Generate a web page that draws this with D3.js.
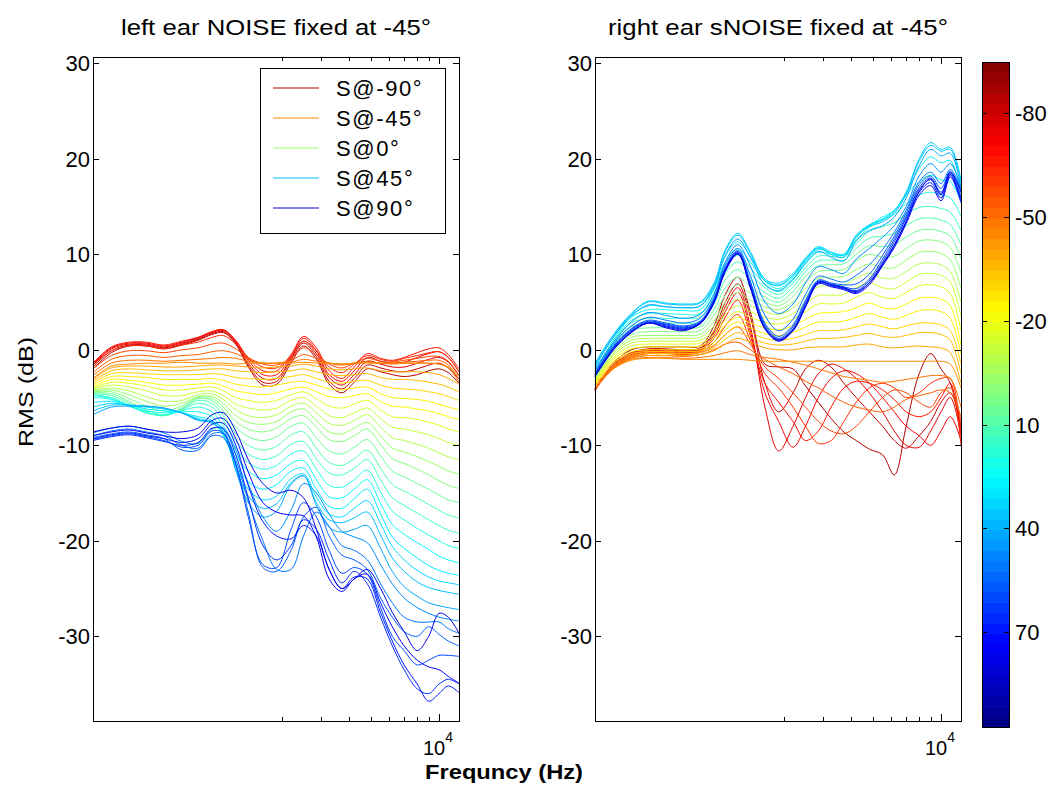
<!DOCTYPE html>
<html>
<head>
<meta charset="utf-8">
<script src="https://cdn.jsdelivr.net/npm/d3@7"></script>
<style>
  body { margin: 0; background: #fff; }
  text { font-family: "Liberation Sans", Arial, sans-serif; fill: #000; }
</style>
</head>
<body>
<svg id="chart" width="1064" height="788"></svg>
<script>
// frequency grid (Hz) shared by every curve
const freqs = [290, 350, 420, 500, 600, 720, 850, 980, 1100, 1250, 1420, 1650, 1900, 2200,
               2500, 2850, 3250, 3700, 4200, 4800, 5500, 6200, 7000, 8000, 9000, 10000, 11000, 12270];

// signal angle of each curve (row order of the tables below)
const angles = [-90, -85, -80, -75, -70, -65, -60, -55, -50, -45, -40, -35, -30, -25, -20, -15, -10, -5, 0,
                5, 10, 15, 20, 25, 30, 35, 40, 45, 50, 55, 60, 65, 70, 75, 80, 85, 90];

// RMS (dB), left ear, one row per angle
const leftRms = [
  [-2.0,-0.3,0.4,0.4,0.1,0.5,1.0,1.6,1.8,0.6,-1.8,-3.7,-3.6,-1.4,0.4,-1.0,-3.6,-4.5,-3.4,-2.0,-2.3,-2.6,-2.8,-2.6,-2.2,-2.0,-2.4,-3.5],
  [-1.8,-0.1,0.5,0.5,0.2,0.6,1.1,1.7,1.9,0.7,-1.6,-3.4,-3.3,-1.1,0.7,-0.7,-3.3,-4.1,-3.0,-1.6,-1.9,-2.2,-2.3,-2.0,-1.6,-1.4,-1.9,-3.1],
  [-1.6,0.1,0.6,0.6,0.3,0.7,1.2,1.8,2.0,0.8,-1.4,-3.0,-3.0,-0.9,0.9,-0.4,-2.9,-3.7,-2.6,-1.2,-1.5,-1.8,-1.8,-1.4,-1.0,-0.8,-1.3,-2.7],
  [-1.5,0.2,0.7,0.7,0.4,0.8,1.3,1.9,2.1,0.9,-1.1,-2.6,-2.6,-0.7,1.2,-0.1,-2.6,-3.3,-2.2,-0.8,-1.2,-1.4,-1.3,-0.8,-0.4,-0.2,-0.8,-2.3],
  [-1.4,0.3,0.8,0.8,0.5,0.9,1.3,1.9,2.1,1.0,-0.9,-2.2,-2.2,-0.5,1.4,0.2,-2.2,-3.0,-1.8,-0.4,-0.9,-1.1,-0.8,-0.3,0.1,0.2,-0.5,-2.0],
  [-1.6,-0.1,0.4,0.4,0.1,0.5,0.8,1.3,1.5,0.6,-0.8,-1.8,-1.9,-0.6,0.9,-0.1,-1.8,-2.4,-1.5,-0.6,-1.0,-1.2,-0.9,-0.6,-0.3,-0.2,-0.8,-2.3],
  [-2.0,-0.6,-0.1,-0.1,-0.3,0.0,0.2,0.6,0.7,0.1,-0.8,-1.5,-1.6,-0.9,0.2,-0.5,-1.5,-1.9,-1.4,-0.9,-1.2,-1.3,-1.1,-0.9,-0.7,-0.7,-1.2,-2.7],
  [-2.4,-1.0,-0.6,-0.6,-0.8,-0.6,-0.5,-0.2,-0.1,-0.4,-1.0,-1.4,-1.4,-1.1,-0.5,-0.9,-1.4,-1.6,-1.4,-1.2,-1.4,-1.4,-1.3,-1.2,-1.1,-1.1,-1.6,-3.1],
  [-2.7,-1.4,-1.1,-1.1,-1.2,-1.1,-1.0,-0.9,-0.8,-0.9,-1.2,-1.4,-1.4,-1.3,-1.0,-1.2,-1.4,-1.5,-1.4,-1.3,-1.4,-1.5,-1.4,-1.4,-1.4,-1.5,-1.9,-3.4],
  [-3.0,-1.7,-1.5,-1.4,-1.4,-1.3,-1.4,-1.4,-1.4,-1.5,-1.4,-1.4,-1.4,-1.4,-1.3,-1.4,-1.4,-1.5,-1.4,-1.4,-1.4,-1.4,-1.4,-1.4,-1.4,-1.5,-1.8,-2.8],
  [-3.1,-1.9,-1.7,-1.7,-1.8,-1.8,-1.7,-1.6,-1.6,-1.7,-1.8,-1.9,-1.8,-1.7,-1.5,-1.7,-2.0,-2.1,-2.0,-1.9,-2.2,-2.3,-2.3,-2.3,-2.4,-2.6,-3.0,-3.6],
  [-3.3,-2.2,-2.0,-2.1,-2.2,-2.2,-2.1,-2.0,-2.0,-2.2,-2.3,-2.4,-2.3,-2.2,-2.0,-2.3,-2.6,-2.7,-2.6,-2.5,-2.9,-3.1,-3.1,-3.2,-3.4,-3.6,-3.9,-4.4],
  [-3.5,-2.5,-2.4,-2.5,-2.6,-2.6,-2.6,-2.5,-2.6,-2.9,-3.0,-3.1,-3.0,-2.8,-2.6,-3.0,-3.4,-3.5,-3.3,-3.2,-3.7,-4.0,-4.1,-4.2,-4.4,-4.6,-4.9,-5.3],
  [-3.7,-2.8,-2.8,-2.9,-3.1,-3.1,-3.1,-3.0,-3.2,-3.6,-3.8,-3.9,-3.7,-3.4,-3.3,-3.7,-4.1,-4.2,-4.0,-3.9,-4.6,-5.0,-5.1,-5.2,-5.4,-5.7,-6.0,-6.3],
  [-3.9,-3.1,-3.2,-3.4,-3.7,-3.7,-3.6,-3.5,-3.8,-4.3,-4.5,-4.7,-4.5,-4.1,-3.9,-4.4,-4.9,-5.0,-4.8,-4.6,-5.4,-5.9,-6.0,-6.2,-6.4,-6.7,-7.0,-7.3],
  [-4.0,-3.4,-3.5,-3.8,-4.2,-4.2,-4.0,-3.9,-4.3,-5.0,-5.3,-5.5,-5.3,-4.7,-4.4,-5.1,-5.9,-6.1,-5.7,-5.3,-6.3,-7.0,-7.1,-7.3,-7.6,-7.9,-8.3,-8.6],
  [-4.1,-3.7,-3.9,-4.3,-4.8,-4.8,-4.4,-4.3,-4.8,-5.7,-6.1,-6.3,-6.1,-5.3,-5.0,-5.9,-6.9,-7.1,-6.6,-6.1,-7.2,-8.1,-8.3,-8.6,-8.9,-9.3,-9.7,-10.0],
  [-4.2,-4.0,-4.3,-4.9,-5.4,-5.3,-4.7,-4.6,-5.2,-6.3,-6.9,-7.1,-6.8,-5.9,-5.6,-6.6,-7.7,-7.9,-7.4,-6.8,-8.1,-9.2,-9.5,-9.9,-10.3,-10.8,-11.2,-11.5],
  [-4.3,-4.2,-4.7,-5.4,-5.9,-5.6,-4.9,-4.9,-5.6,-6.9,-7.6,-7.8,-7.5,-6.5,-6.2,-7.4,-8.6,-8.8,-8.2,-7.6,-9.0,-10.3,-10.7,-11.2,-11.7,-12.2,-12.7,-13.0],
  [-4.4,-4.4,-5.1,-5.9,-6.4,-5.9,-5.0,-5.1,-6.0,-7.5,-8.3,-8.6,-8.2,-7.2,-6.9,-8.1,-9.4,-9.6,-9.0,-8.3,-9.9,-11.4,-11.9,-12.5,-13.1,-13.7,-14.2,-14.5],
  [-4.5,-4.6,-5.4,-6.3,-6.8,-6.1,-5.1,-5.3,-6.4,-8.1,-9.1,-9.5,-9.1,-8.0,-7.7,-9.2,-10.6,-10.9,-10.2,-9.4,-11.1,-12.7,-13.3,-14.0,-14.6,-15.2,-15.7,-16.0],
  [-4.6,-4.8,-5.6,-6.5,-6.9,-6.2,-5.3,-5.6,-6.9,-8.8,-10.0,-10.5,-10.1,-8.9,-8.6,-10.3,-11.8,-12.1,-11.4,-10.5,-12.4,-14.1,-14.8,-15.5,-16.2,-16.8,-17.3,-17.6],
  [-4.7,-5.0,-5.8,-6.6,-6.9,-6.3,-5.6,-6.0,-7.4,-9.5,-10.9,-11.5,-11.1,-9.9,-9.6,-11.4,-12.9,-13.1,-12.4,-11.5,-13.6,-15.5,-16.3,-17.1,-17.8,-18.4,-18.9,-19.2],
  [-4.8,-5.1,-5.9,-6.6,-6.8,-6.4,-6.0,-6.5,-8.0,-10.3,-11.8,-12.5,-12.1,-10.9,-10.6,-12.5,-14.2,-14.4,-13.6,-12.6,-14.9,-16.9,-17.8,-18.7,-19.4,-20.0,-20.5,-20.8],
  [-5.0,-5.2,-5.9,-6.4,-6.6,-6.5,-6.5,-7.0,-8.6,-11.0,-12.7,-13.5,-13.1,-11.9,-11.6,-13.6,-15.4,-15.5,-14.6,-13.6,-16.1,-18.3,-19.3,-20.2,-20.9,-21.6,-22.0,-22.3],
  [-5.5,-5.4,-5.8,-6.2,-6.4,-6.6,-7.0,-7.4,-9.0,-11.8,-13.8,-14.6,-14.1,-12.7,-12.4,-14.6,-16.4,-16.6,-15.6,-14.6,-17.2,-19.6,-20.8,-21.8,-22.6,-23.1,-23.4,-23.6],
  [-6.0,-5.6,-5.8,-6.0,-6.2,-6.6,-7.2,-7.6,-8.8,-12.2,-14.6,-15.7,-15.3,-13.5,-13.0,-15.4,-17.2,-17.5,-16.6,-15.8,-18.2,-20.6,-22.0,-23.1,-23.8,-24.2,-24.4,-24.6],
  [-6.4,-5.8,-5.8,-5.9,-6.1,-6.6,-7.3,-7.7,-8.6,-12.5,-15.3,-16.6,-16.1,-13.9,-13.2,-16.0,-17.8,-18.1,-17.6,-17.0,-19.4,-21.8,-23.2,-24.3,-24.9,-25.2,-25.4,-25.6],
  [-6.8,-6.0,-5.9,-5.9,-6.1,-6.6,-7.4,-7.5,-8.3,-12.6,-16.0,-17.5,-16.9,-14.1,-13.2,-16.3,-18.6,-19.1,-18.8,-18.4,-20.8,-23.2,-24.8,-25.8,-26.5,-26.8,-27.0,-27.2],
  [-8.7,-8.2,-8.0,-8.3,-8.7,-9.6,-9.8,-8.3,-8.2,-10.5,-14.0,-17.5,-19.0,-16.8,-14.0,-15.0,-17.2,-19.0,-19.6,-20.2,-22.5,-24.5,-26.0,-27.0,-27.6,-28.0,-28.2,-28.4],
  [-9.0,-8.5,-8.3,-8.6,-9.0,-10.0,-10.3,-8.8,-8.8,-11.5,-15.8,-20.0,-23.0,-23.0,-19.5,-17.0,-18.5,-20.5,-21.0,-22.0,-24.5,-26.5,-28.0,-28.5,-28.5,-28.5,-29.2,-29.7],
  [-9.2,-8.8,-8.6,-8.9,-9.3,-10.5,-10.5,-9.0,-9.2,-12.0,-17.0,-22.8,-23.2,-21.0,-17.5,-16.5,-19.5,-21.5,-22.0,-23.0,-26.0,-28.0,-29.5,-30.0,-29.0,-29.8,-30.5,-31.0],
  [-9.4,-9.0,-8.8,-9.1,-9.5,-10.2,-10.0,-8.5,-8.7,-12.0,-17.5,-22.5,-22.8,-18.8,-16.0,-17.5,-21.0,-23.4,-22.8,-23.5,-27.0,-30.0,-31.5,-33.0,-32.5,-32.0,-32.0,-32.1],
  [-9.5,-9.1,-8.9,-9.2,-9.6,-10.0,-9.7,-8.2,-8.3,-11.0,-15.5,-20.5,-22.0,-20.5,-17.8,-18.8,-22.0,-24.4,-23.2,-24.5,-28.0,-31.0,-33.5,-35.5,-36.0,-35.0,-34.5,-35.0],
  [-9.3,-8.9,-8.7,-9.0,-9.3,-9.7,-9.3,-7.8,-7.7,-10.0,-14.2,-18.0,-19.5,-19.8,-18.4,-19.5,-23.0,-25.0,-23.8,-24.0,-27.5,-30.5,-33.0,-35.0,-36.8,-36.0,-35.2,-35.9],
  [-9.0,-8.6,-8.4,-8.7,-9.0,-9.3,-8.9,-7.4,-7.2,-9.3,-12.8,-16.0,-17.0,-17.3,-17.4,-19.6,-24.0,-25.3,-24.0,-23.5,-26.5,-29.0,-31.0,-32.5,-33.2,-33.5,-34.2,-34.9],
  [-8.6,-8.2,-8.0,-8.3,-8.6,-8.6,-8.2,-6.8,-6.6,-8.5,-11.5,-14.0,-15.0,-14.7,-15.5,-18.8,-23.0,-25.0,-24.0,-23.0,-25.0,-27.5,-29.5,-31.5,-30.0,-27.6,-28.0,-29.7]
];

// RMS (dB), right ear, one row per angle
const rightRms = [
  [-4.3,-1.4,0.0,0.3,0.3,0.3,0.4,2.5,5.8,7.6,4.0,-1.5,-1.8,-2.0,-3.8,-5.5,-7.2,-8.6,-9.5,-10.4,-11.0,-13.1,-8.0,-2.5,-0.4,-2.0,-3.5,-8.5],
  [-4.1,-1.5,-0.3,0.1,0.1,0.0,0.2,2.0,5.0,6.9,3.5,-3.5,-6.5,-4.5,-2.0,-1.1,-1.8,-3.5,-5.0,-6.5,-8.0,-9.5,-10.3,-9.0,-7.5,-5.5,-4.5,-8.0],
  [-4.1,-1.6,-0.4,0.0,0.0,-0.1,0.1,1.8,4.5,6.5,2.5,-6.0,-10.6,-8.0,-5.0,-2.5,-1.5,-2.0,-3.0,-4.5,-6.5,-8.5,-10.0,-10.2,-8.5,-6.5,-5.0,-9.0],
  [-4.2,-1.7,-0.5,-0.1,-0.1,-0.2,0.0,1.5,4.0,6.0,2.0,-4.5,-7.5,-10.2,-8.0,-5.0,-3.0,-2.2,-2.5,-3.5,-5.0,-6.5,-8.0,-9.0,-10.0,-8.5,-7.0,-9.5],
  [-4.2,-1.8,-0.6,-0.2,-0.2,-0.3,-0.1,1.2,3.4,5.2,1.5,-3.5,-5.5,-7.5,-9.5,-8.5,-6.0,-4.0,-3.3,-3.5,-4.2,-5.2,-6.5,-7.0,-6.5,-5.0,-3.5,-10.0],
  [-4.2,-1.8,-0.7,-0.3,-0.3,-0.4,-0.2,0.8,2.5,3.7,1.0,-2.5,-4.0,-6.0,-8.0,-9.8,-9.5,-7.5,-5.5,-4.0,-3.5,-4.0,-5.0,-4.5,-3.5,-3.0,-3.0,-9.0],
  [-4.2,-1.9,-0.8,-0.4,-0.4,-0.5,-0.3,0.4,1.6,2.4,0.6,-1.8,-3.0,-4.5,-6.0,-7.5,-8.5,-8.8,-8.0,-6.5,-5.0,-4.2,-4.5,-5.5,-6.0,-4.5,-4.0,-7.5],
  [-4.1,-1.9,-0.9,-0.6,-0.6,-0.7,-0.5,0.0,0.6,0.8,0.0,-1.0,-1.8,-2.5,-3.3,-4.0,-4.8,-5.5,-6.0,-6.3,-6.5,-6.0,-5.2,-4.8,-4.5,-4.2,-4.5,-7.0],
  [-4.1,-2.0,-1.0,-0.8,-0.8,-0.9,-0.8,-0.6,-0.3,-0.1,-0.5,-0.8,-1.0,-1.3,-1.6,-2.0,-2.4,-2.8,-3.0,-3.2,-3.4,-3.3,-3.1,-2.9,-2.7,-2.7,-3.0,-6.0],
  [-4.0,-2.0,-1.1,-0.9,-0.9,-1.0,-1.0,-1.0,-1.0,-1.0,-1.1,-1.2,-1.2,-1.2,-1.2,-1.2,-1.2,-1.2,-1.2,-1.2,-1.2,-1.2,-1.2,-1.2,-1.2,-1.2,-1.5,-4.0],
  [-3.8,-1.8,-0.8,-0.6,-0.6,-0.6,-0.5,-0.1,0.6,1.2,0.8,0.2,0.0,0.0,0.2,0.3,0.3,0.3,0.5,0.6,0.3,0.2,0.3,0.4,0.3,0.2,-0.3,-3.5],
  [-3.7,-1.6,-0.6,-0.4,-0.4,-0.4,-0.3,0.2,1.1,1.8,1.3,0.7,0.5,0.6,0.9,1.2,1.2,1.3,1.5,1.7,1.4,1.3,1.5,1.8,1.8,1.6,1.0,-2.5],
  [-3.6,-1.4,-0.4,-0.2,-0.2,-0.2,-0.1,0.5,1.6,2.4,1.8,1.2,1.0,1.2,1.6,2.0,2.0,2.1,2.4,2.7,2.4,2.2,2.5,2.8,2.8,2.6,2.0,-1.5],
  [-3.5,-1.2,-0.2,0.0,0.0,0.0,0.1,0.8,2.1,2.9,2.3,1.7,1.5,1.8,2.4,2.9,2.9,3.0,3.4,3.8,3.4,3.2,3.6,4.1,4.2,4.0,3.3,-0.5],
  [-3.4,-1.0,0.1,0.3,0.3,0.3,0.4,1.2,2.6,3.4,2.8,2.3,2.1,2.5,3.2,3.8,3.9,4.0,4.4,4.9,4.4,4.3,4.8,5.4,5.5,5.3,4.6,0.5],
  [-3.3,-0.8,0.4,0.6,0.6,0.6,0.7,1.6,3.1,4.0,3.4,2.9,2.7,3.2,4.0,4.8,4.8,4.9,5.5,6.0,5.5,5.4,6.0,6.7,6.8,6.6,5.9,2.0],
  [-3.2,-0.6,0.7,0.9,0.9,0.9,1.0,2.0,3.7,4.6,4.0,3.4,3.2,3.8,4.8,5.7,5.7,5.8,6.5,7.0,6.5,6.4,7.1,7.9,8.0,7.8,7.1,3.5],
  [-3.1,-0.4,1.0,1.2,1.2,1.2,1.3,2.5,4.3,5.3,4.6,4.0,3.7,4.4,5.6,6.6,6.7,6.8,7.5,8.0,7.5,7.5,8.2,9.0,9.1,8.9,8.2,5.0],
  [-3.0,-0.2,1.3,1.5,1.5,1.5,1.6,3.0,5.0,6.0,5.2,4.5,4.2,5.0,6.4,7.5,7.6,7.7,8.4,9.0,8.6,8.6,9.4,10.2,10.3,10.1,9.4,6.5],
  [-2.9,0.0,1.6,1.9,1.9,1.9,2.0,3.6,5.7,6.8,5.9,5.0,4.6,5.6,7.1,8.2,8.3,8.4,9.3,10.0,9.7,9.8,10.6,11.4,11.5,11.3,10.7,8.0],
  [-2.8,0.2,2.0,2.3,2.3,2.3,2.4,4.2,6.5,7.6,6.6,5.5,5.0,6.1,7.7,8.8,8.9,9.0,10.0,10.9,10.8,11.0,11.8,12.5,12.6,12.4,11.9,9.5],
  [-2.7,0.4,2.4,2.8,2.8,2.8,2.9,4.8,7.3,8.4,7.3,6.0,5.4,6.6,8.2,9.3,9.4,9.4,10.6,11.7,11.9,12.2,13.0,13.7,13.8,13.6,13.1,11.0],
  [-2.6,0.6,2.8,3.3,3.3,3.3,3.4,5.4,8.0,9.2,8.0,6.5,5.8,7.0,8.6,9.8,9.8,9.7,11.1,12.4,12.9,13.3,14.2,14.9,15.0,14.8,14.4,12.5],
  [-2.5,0.8,3.1,3.8,3.8,3.7,3.8,5.9,8.6,9.9,8.6,6.9,6.1,7.3,9.0,10.2,10.0,9.9,11.5,12.8,13.6,14.2,15.3,16.2,16.5,16.2,15.9,14.0],
  [-2.2,1.0,3.4,4.2,4.2,4.1,4.2,6.3,9.2,10.6,9.2,7.2,6.4,7.6,9.3,10.5,10.2,10.0,11.8,13.0,13.9,14.6,16.2,17.6,18.3,17.8,17.6,15.5],
  [-1.8,1.3,3.6,4.6,4.5,4.4,4.6,6.7,9.8,11.3,9.8,7.4,6.7,7.8,9.5,10.7,10.2,10.0,11.9,13.0,13.7,14.6,16.4,19.0,20.2,19.6,19.8,16.5],
  [-1.4,1.6,3.8,5.1,4.9,4.8,5.0,7.0,10.5,12.2,10.3,7.4,7.0,8.0,9.6,10.8,10.2,9.9,12.0,13.1,13.6,14.5,16.5,20.0,21.7,21.0,21.2,17.8],
  [-1.5,1.5,3.7,5.0,4.8,4.7,4.9,6.8,10.3,12.0,10.1,7.2,6.8,7.8,9.4,10.6,10.0,9.7,11.8,12.9,13.4,14.3,16.3,19.8,21.4,20.8,21.0,17.5],
  [-1.7,1.3,3.5,4.7,4.5,4.4,4.6,6.5,9.9,11.6,9.7,6.8,6.2,7.4,9.1,10.3,9.7,9.3,11.4,12.5,13.0,13.9,15.9,19.3,21.0,20.3,20.6,17.0],
  [-2.0,0.8,2.9,3.9,3.6,3.3,3.7,5.8,9.2,11.0,8.8,5.0,3.8,4.8,7.0,8.7,8.4,8.0,9.5,10.6,11.8,13.0,15.0,18.2,19.5,18.6,19.5,17.0],
  [-2.2,0.6,2.5,3.4,3.1,2.8,3.3,5.5,8.9,10.6,7.8,3.6,2.0,3.2,5.8,7.7,7.4,7.1,7.8,8.9,10.5,12.3,14.6,17.6,18.6,17.4,18.9,16.8],
  [-2.4,0.4,2.2,3.1,2.8,2.5,3.0,5.3,8.6,10.4,7.2,2.8,1.4,2.6,5.2,7.3,7.0,6.8,6.9,7.9,9.9,11.9,14.3,17.3,18.2,16.9,18.7,16.4],
  [-2.5,0.3,2.1,3.0,2.7,2.4,2.9,5.2,8.5,10.3,7.0,2.6,1.2,2.4,5.0,7.2,6.9,6.6,6.4,7.4,9.5,11.6,14.0,17.0,18.0,16.5,18.5,16.0],
  [-2.6,0.2,2.0,2.9,2.6,2.3,2.8,5.1,8.4,10.2,6.8,2.4,1.1,2.2,4.8,7.1,6.8,6.5,6.2,7.2,9.2,11.3,13.8,16.8,17.8,16.2,18.4,15.8],
  [-2.7,0.1,1.9,2.8,2.5,2.2,2.8,5.0,8.3,10.1,6.7,2.3,1.0,2.1,4.6,7.0,6.7,6.4,6.0,7.0,9.0,11.0,13.5,16.5,17.5,15.9,18.3,15.6],
  [-2.8,0.0,1.8,2.8,2.4,2.1,2.7,4.9,8.2,10.0,6.6,2.2,0.9,2.0,4.5,6.9,6.6,6.3,5.9,6.8,8.8,10.7,13.2,16.2,17.2,15.6,18.1,15.4],
  [-2.8,0.0,1.8,2.8,2.3,2.0,2.8,5.0,8.4,10.1,6.5,2.2,1.0,2.0,4.5,7.1,6.8,6.5,6.1,7.0,8.9,10.9,13.4,16.6,17.9,16.3,18.6,16.6]
];

const yTicks = [30, 20, 10, 0, -10, -20, -30];
const minorTicks = [2000, 3000, 4000, 5000, 6000, 7000, 8000, 9000];
const majorTicks = [10000];
const cbarTicks = [-80, -50, -20, 10, 40, 70];
const legendAngles = [-90, -45, 0, 45, 90];
const titles = ["left ear NOISE fixed at -45°", "right ear sNOISE fixed at -45°"];

const svg = d3.select("#chart");

// matlab style jet colormap
function jet(t) {
    const c = v => Math.max(0, Math.min(1, v));
    const r = c(1.5 - Math.abs(4 * t - 3));
    const g = c(1.5 - Math.abs(4 * t - 2));
    const b = c(1.5 - Math.abs(4 * t - 1));
    return d3.rgb(r * 255, g * 255, b * 255).formatHex();
}
// -90 -> dark red, 90 -> blue
const lineColor = a => jet(0.1 + 0.85 * (90 - a) / 180);

const plotTop = 57, plotBottom = 721, panelW = 366;

function drawPanel(left, rms, title, titleLen) {
    const x = d3.scaleLog().domain([290, 12270]).range([left, left + panelW]);
    const y = d3.scaleLinear().domain([-38.87, 30.66]).range([plotBottom, plotTop]);
    const g = svg.append("g");

    const line = d3.line()
        .x((d, i) => x(freqs[i]))
        .y(d => y(d))
        .curve(d3.curveCatmullRom.alpha(0.5));

    g.selectAll("path.curve")
        .data(rms)
        .join("path")
        .attr("class", "curve")
        .attr("d", line)
        .attr("fill", "none")
        .attr("stroke", (d, i) => lineColor(angles[i]))
        .attr("stroke-width", 1);

    // axes box
    g.append("rect")
        .attr("x", left + 0.5).attr("y", plotTop + 0.5)
        .attr("width", panelW).attr("height", plotBottom - plotTop)
        .attr("fill", "none").attr("stroke", "#000").attr("stroke-width", 1);

    // y ticks, inward on both sides
    yTicks.forEach(v => {
        const yy = Math.round(y(v)) + 0.5;
        g.append("line").attr("x1", left).attr("x2", left + 6).attr("y1", yy).attr("y2", yy).attr("stroke", "#000");
        g.append("line").attr("x1", left + panelW - 6).attr("x2", left + panelW).attr("y1", yy).attr("y2", yy).attr("stroke", "#000");
        g.append("text")
            .attr("x", left - 3).attr("y", y(v) + 8)
            .attr("text-anchor", "end")
            .style("font-size", "22px")
            .text(v);
    });

    // x ticks top and bottom
    minorTicks.forEach(f => {
        const xx = Math.round(x(f)) + 0.5;
        g.append("line").attr("x1", xx).attr("x2", xx).attr("y1", plotBottom).attr("y2", plotBottom - 4).attr("stroke", "#000");
        g.append("line").attr("x1", xx).attr("x2", xx).attr("y1", plotTop).attr("y2", plotTop + 4).attr("stroke", "#000");
    });
    majorTicks.forEach(f => {
        const xx = Math.round(x(f)) + 0.5;
        g.append("line").attr("x1", xx).attr("x2", xx).attr("y1", plotBottom).attr("y2", plotBottom - 7).attr("stroke", "#000");
        g.append("line").attr("x1", xx).attr("x2", xx).attr("y1", plotTop).attr("y2", plotTop + 7).attr("stroke", "#000");
        const lbl = g.append("text")
            .attr("x", x(f) - 16).attr("y", 755)
            .style("font-size", "20px");
        lbl.append("tspan").text("10");
        lbl.append("tspan").attr("dy", -13).style("font-size", "14px").text("4");
    });

    g.append("text")
        .attr("x", left + panelW / 2).attr("y", 35)
        .attr("text-anchor", "middle")
        .attr("textLength", titleLen)
        .attr("lengthAdjust", "spacingAndGlyphs")
        .style("font-size", "22px")
        .text(title);
}

drawPanel(93, leftRms, titles[0], 310);
drawPanel(595, rightRms, titles[1], 340);

// legend on the left panel
const leg = svg.append("g");
leg.append("rect")
    .attr("x", 260.5).attr("y", 68.5).attr("width", 185).attr("height", 165)
    .attr("fill", "#fff").attr("stroke", "#000");
legendAngles.forEach((a, i) => {
    const yy = 88 + i * 30;
    leg.append("line")
        .attr("x1", 273).attr("x2", 319).attr("y1", yy).attr("y2", yy)
        .attr("stroke", lineColor(a)).attr("stroke-width", 1);
    leg.append("text")
        .attr("x", 336).attr("y", yy + 8)
        .style("font-size", "22px")
        .style("letter-spacing", "1.6px")
        .text("S@" + a + "°");
});

// axis labels
svg.append("text")
    .attr("transform", "translate(33,392) rotate(-90)")
    .attr("text-anchor", "middle")
    .attr("textLength", 110)
    .attr("lengthAdjust", "spacingAndGlyphs")
    .style("font-size", "21px")
    .text("RMS (dB)");

svg.append("text")
    .attr("x", 425).attr("y", 779)
    .attr("textLength", 158)
    .attr("lengthAdjust", "spacingAndGlyphs")
    .style("font-size", "21px")
    .style("font-weight", "bold")
    .text("Frequncy (Hz)");

// colorbar
const cbX = 982, cbW = 27, cbTop = 62, cbBottom = 727;
const cb = d3.scaleLinear().domain([-94.8, 97.4]).range([cbTop, cbBottom]);
const nBands = 64;
const bandH = (cbBottom - cbTop) / nBands;
const cbg = svg.append("g");
cbg.selectAll("rect.band")
    .data(d3.range(nBands))
    .join("rect")
    .attr("class", "band")
    .attr("x", cbX)
    .attr("y", k => cbBottom - (k + 1) * bandH)
    .attr("width", cbW)
    .attr("height", bandH + 0.6)
    .attr("fill", k => jet((k + 0.5) / nBands));
cbg.append("rect")
    .attr("x", cbX + 0.5).attr("y", cbTop + 0.5).attr("width", cbW).attr("height", cbBottom - cbTop)
    .attr("fill", "none").attr("stroke", "#000");
cbarTicks.forEach(v => {
    const yy = Math.round(cb(v)) + 0.5;
    cbg.append("line").attr("x1", cbX).attr("x2", cbX + 5).attr("y1", yy).attr("y2", yy).attr("stroke", "#000");
    cbg.append("line").attr("x1", cbX + cbW - 5).attr("x2", cbX + cbW).attr("y1", yy).attr("y2", yy).attr("stroke", "#000");
    cbg.append("text")
        .attr("x", cbX + cbW + 6).attr("y", cb(v) + 8)
        .style("font-size", "22px")
        .text(v);
});
</script>
</body>
</html>
